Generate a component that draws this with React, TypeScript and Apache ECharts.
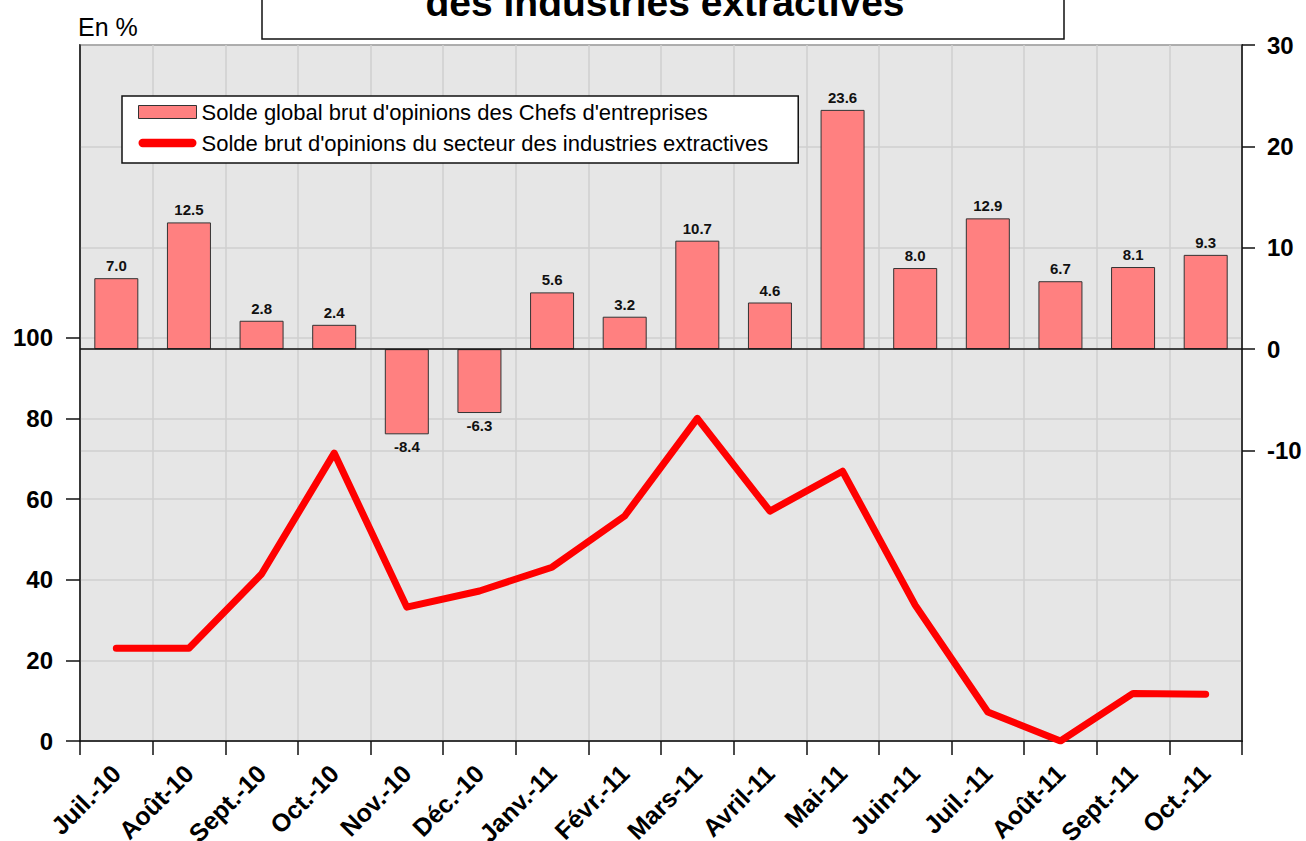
import React, { useEffect, useRef } from "react";
import * as echarts from "echarts";

const categories = ["Juil.-10", "Août-10", "Sept.-10", "Oct.-10", "Nov.-10", "Déc.-10", "Janv.-11", "Févr.-11", "Mars-11", "Avril-11", "Mai-11", "Juin-11", "Juil.-11", "Août-11", "Sept.-11", "Oct.-11"];
const globalBalance = [7.0, 12.5, 2.8, 2.4, -8.4, -6.3, 5.6, 3.2, 10.7, 4.6, 23.6, 8.0, 12.9, 6.7, 8.1, 9.3];
const extractiveBalance = [23.0, 23.0, 41.4, 71.4, 33.2, 37.2, 43.1, 55.8, 80.0, 57.0, 66.9, 33.7, 7.2, 0.0, 11.8, 11.6];
const leftTicks = [0, 20, 40, 60, 80, 100];
const rightTicks = [-10, 0, 10, 20, 30];
const barName = "Solde global brut d'opinions des Chefs d'entreprises";
const lineName = "Solde brut d'opinions du secteur des industries extractives";
const titleText = "des industries extractives";
const unitText = "En %";

const FONT = 'Arial, "Liberation Sans", sans-serif';
const CAPSULE = "path://M4.5,0 L57.5,0 A4.5,4.5 0 0 1 57.5,9 L4.5,9 A4.5,4.5 0 0 1 4.5,0 Z";

export default function App() {
  const ref = useRef<HTMLDivElement>(null);
  useEffect(() => {
    if (!ref.current) return;
    const chart = echarts.init(ref.current, undefined, { renderer: "svg" });
    const option: any = {
      animation: false,
      textStyle: { fontFamily: FONT },
      grid: {
        left: 80, right: 64, top: 45, bottom: 100,
        containLabel: false, outerBoundsMode: "none",
        show: true, backgroundColor: "#E6E6E6", borderColor: "#111", borderWidth: 1.5,
      },
      legend: {
        orient: "vertical", left: 122, top: 96,
        padding: [5, 30, 9, 16],
        backgroundColor: "#fff", borderColor: "#111", borderWidth: 1.5,
        itemWidth: 58, itemHeight: 13, itemGap: 9,
        symbolKeepAspect: true,
        textStyle: { fontSize: 22, color: "#000", lineHeight: 22, fontFamily: FONT },
        data: [
          { name: barName, icon: "rect", itemStyle: { color: "#FF8080", borderColor: "#333", borderWidth: 1 } },
          { name: lineName, icon: CAPSULE, itemStyle: { color: "#FF0000", borderWidth: 0 } },
        ],
      },
      graphic: [
        { type: "rect", shape: { x: 262, y: -5, width: 802, height: 44 }, style: { fill: "#fff", stroke: "#111", lineWidth: 1.5 }, z: 10 },
        { type: "text", x: 665, y: 2, z: 11, style: { text: titleText, fontSize: 39, fontWeight: "bold", fontFamily: FONT, fill: "#000", align: "center", verticalAlign: "middle" } },
        { type: "text", x: 78, y: 27, z: 11, style: { text: unitText, fontSize: 25, fontFamily: FONT, fill: "#000", align: "left", verticalAlign: "middle" } },
      ],
      xAxis: {
        type: "category", data: categories, boundaryGap: true,
        axisLine: { lineStyle: { color: "#111", width: 1.5 } },
        axisTick: { show: true, length: 14, lineStyle: { color: "#111", width: 1.5 } },
        splitLine: { show: true, lineStyle: { color: "#CFCFCF", width: 1.5 } },
        axisLabel: { rotate: 45, margin: 28, fontSize: 25, fontWeight: "bold", color: "#000", fontFamily: FONT, interval: 0 },
      },
      yAxis: [
        {
          type: "value", min: 0, max: 172.6, splitNumber: 8, position: "left",
          axisLine: { show: true, lineStyle: { color: "#111", width: 1.5 } },
          axisTick: { show: true, length: 14, customValues: leftTicks, lineStyle: { color: "#111", width: 1.5 } },
          axisLabel: { customValues: leftTicks, margin: 27, fontSize: 24, fontWeight: "bold", color: "#000", fontFamily: FONT },
          splitLine: { show: true, lineStyle: { color: "#CFCFCF", width: 1.5 } },
        },
        {
          type: "value", min: -38.65, max: 30, splitNumber: 7, position: "right",
          axisLine: { show: true, lineStyle: { color: "#111", width: 1.5 } },
          axisTick: { show: true, length: 13, customValues: rightTicks, lineStyle: { color: "#111", width: 1.5 } },
          axisLabel: { customValues: rightTicks, margin: 25, fontSize: 24, fontWeight: "bold", color: "#000", fontFamily: FONT },
          splitLine: { show: true, lineStyle: { color: "#CFCFCF", width: 1.5 } },
        },
      ],
      series: [
        {
          name: barName, type: "bar", yAxisIndex: 1, barWidth: 44, z: 3,
          itemStyle: { color: "#FF8080", borderColor: "#333", borderWidth: 1 },
          label: {
            show: true, fontSize: 15, fontWeight: "bold", color: "#111", distance: 5, fontFamily: FONT,
            formatter: (p: any) => Number(p.value).toFixed(1),
          },
          data: globalBalance.map((v) => ({ value: v, label: { position: v < 0 ? "bottom" : "top" } })),
          markLine: {
            silent: true, symbol: "none", label: { show: false },
            lineStyle: { color: "#111", width: 1.5, type: "solid" },
            data: [{ yAxis: 0 }],
          },
        },
        {
          name: lineName, type: "line", yAxisIndex: 0, z: 4,
          showSymbol: false, symbol: "none",
          lineStyle: { color: "#FF0000", width: 7, cap: "round", join: "round" },
          itemStyle: { color: "#FF0000" },
          data: extractiveBalance,
        },
      ],
    };
    chart.setOption(option);
    return () => chart.dispose();
  }, []);
  return <div ref={ref} style={{ position: "absolute", left: 0, top: 0, width: 1306, height: 841 }} />;
}
